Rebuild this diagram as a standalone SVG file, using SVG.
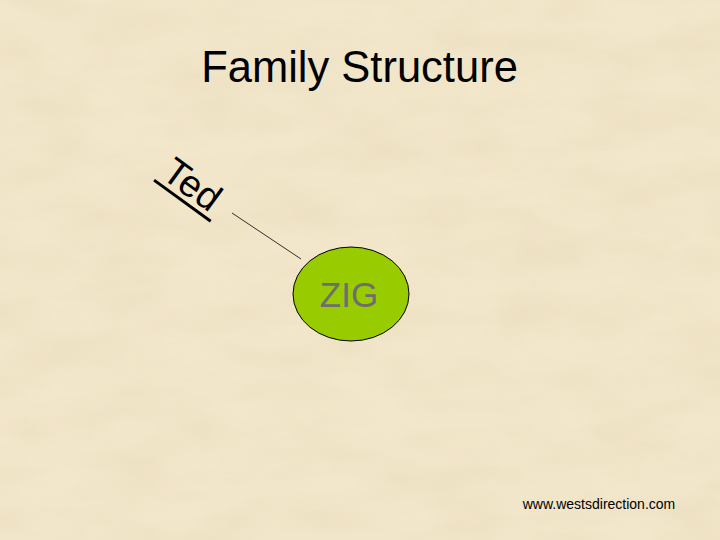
<svg xmlns="http://www.w3.org/2000/svg" width="720" height="540" viewBox="0 0 720 540">
  <defs>
    <filter id="paper" x="0" y="0" width="100%" height="100%">
      <feTurbulence type="fractalNoise" baseFrequency="0.012 0.03" numOctaves="4" seed="7" result="n"/>
      <feColorMatrix type="matrix" in="n" values="0 0 0 0 0.80  0 0 0 0 0.70  0 0 0 0 0.50  0 0 0 1.2 -0.35"/>
    </filter>
    <style>
      .t{font-family:"Liberation Sans",Arial,sans-serif;fill:#000}
      .conn{stroke:#000;stroke-width:0.8;fill:none}
    </style>
  </defs>
  <rect width="720" height="540" fill="#f3e7cb"/>
  <rect width="720" height="540" filter="url(#paper)" opacity="0.7"/>
  <text class="t" x="359.5" y="82" font-size="43.5" text-anchor="middle">Family Structure</text>
  <g id="connectors">
    <line class="conn" x1="232" y1="213" x2="301" y2="259"/>
  </g>
  <g id="ted">
    <g transform="translate(160,177) rotate(36)">
      <text class="t" x="0" y="0" font-size="38">Ted</text>
      <line x1="-3" y1="6" x2="67" y2="6" stroke="#000" stroke-width="3"/>
    </g>
  </g>
  <g id="zig">
    <ellipse cx="351" cy="294" rx="58" ry="47" fill="#99cc00" stroke="#000" stroke-width="1"/>
    <text x="349" y="307" font-size="35" text-anchor="middle" font-family="Liberation Sans,Arial,sans-serif" fill="#6e6e6e">ZIG</text>
  </g>
  <text class="t" x="599" y="509" font-size="14" text-anchor="middle">www.westsdirection.com</text>
</svg>
